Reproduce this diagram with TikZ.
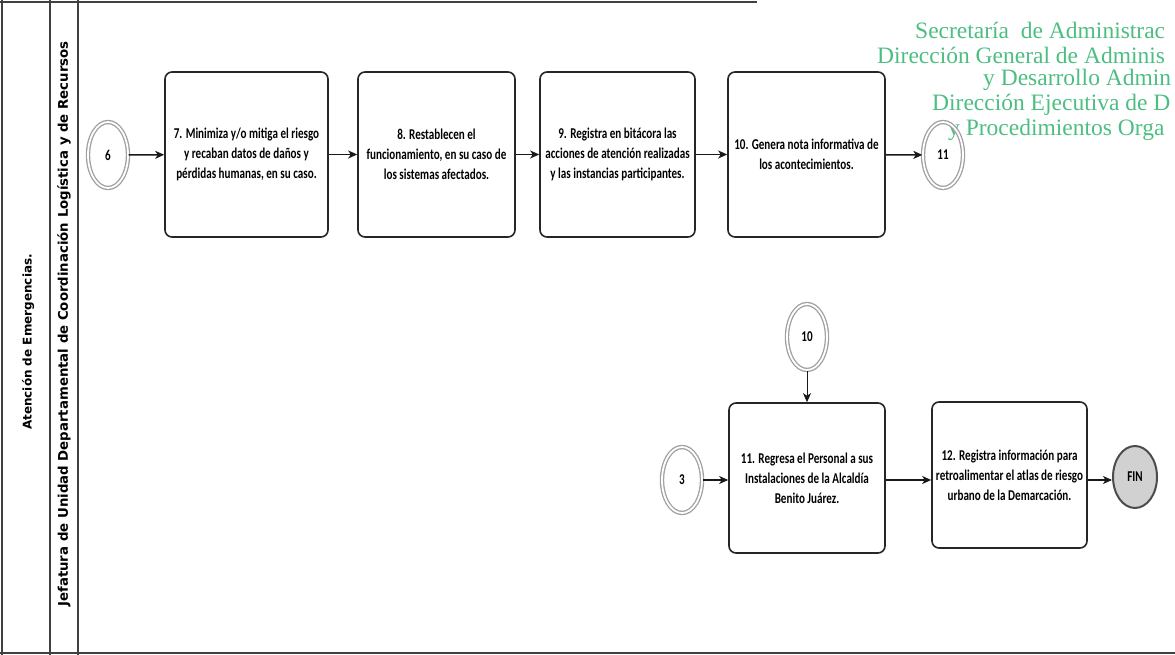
\documentclass[tikz,border=0pt]{standalone}
\usepackage{fontspec}
\setmainfont{Liberation Serif}
\newfontfamily\boxfont[FakeStretch=0.74]{Carlito}
\newfontfamily\lanefont{DejaVu Sans}
\usetikzlibrary{arrows.meta,shapes.geometric}
\definecolor{hdrgreen}{HTML}{4DBE82}
\definecolor{evgray}{HTML}{A0A0A0}
\tikzset{
  task/.style={draw=black!85, line width=1.6pt, rounded corners=7pt, fill=white,
    align=center, inner sep=1pt, font=\boxfont\bfseries\fontsize{15}{20}\selectfont},
  event/.style={ellipse, draw=evgray, double=white, double distance=1.8pt, line width=1.3pt,
    minimum width=40pt, minimum height=66pt, inner sep=0pt, font=\boxfont\bfseries\fontsize{15}{16}\selectfont},
  endev/.style={ellipse, draw=black!70, fill=black!18, line width=2pt,
    minimum width=44pt, minimum height=62pt, inner sep=0pt, font=\boxfont\bfseries\fontsize{15}{16}\selectfont},
  flow/.style={-{Stealth[length=9pt,width=8pt,inset=2.5pt]}, line width=1.5pt, draw=black!90},
  lane/.style={draw=black!75, line width=1.2pt},
  hdr/.style={anchor=west, text=hdrgreen, font=\fontsize{23.5}{26}\selectfont, inner sep=0pt},
  lanetxt/.style={rotate=90, inner sep=0pt}
}
\begin{document}
\begin{tikzpicture}[x=1pt,y=-1pt]
\useasboundingbox (0,0) rectangle (1175,655);
% lane borders
\draw[lane] (0,2) -- (757,2);
\draw[lane] (2,0) -- (2,655);
\draw[lane] (50,0) -- (50,655);
\draw[lane] (78,0) -- (78,655);
\draw[lane] (0,653) -- (1175,653);
% lane labels
\node[lanetxt, font=\lanefont\bfseries\fontsize{12}{14}\selectfont] (l1) at (28,342) {Atención de Emergencias.};
\node[lanetxt, font=\lanefont\bfseries\fontsize{13.3}{14}\selectfont] (l2) at (64,324) {Jefatura de Unidad Departamental de Coordinación Logística y de Recursos};
% header
\node[hdr] (h1) at (915,30) {Secretaría\ \ de Administrac};
\node[hdr] (h2) at (877,55) {Dirección General de Adminis};
\node[hdr] (h3) at (983,80) {y Desarrollo Admin};
\node[hdr] (h4) at (932,105) {Dirección Ejecutiva de D};
\node[hdr] (h5) at (948,130) {y Procedimientos Orga};
% tasks
\node[task, minimum width=163pt, minimum height=165pt] (t7) at (246.5,154.5) {7. Minimiza y/o mitiga el riesgo\\ y recaban datos de daños y\\ pérdidas humanas, en su caso.};
\node[task, minimum width=157pt, minimum height=165pt] (t8) at (436.5,154.5) {8. Restablecen el\\ funcionamiento, en su caso de\\ los sistemas afectados.};
\node[task, minimum width=155pt, minimum height=165pt] (t9) at (617.5,154.5) {9. Registra en bitácora las\\ acciones de atención realizadas\\ y las instancias participantes.};
\node[task, minimum width=157pt, minimum height=165pt] (t10) at (806.5,154.5) {10. Genera nota informativa de\\ los acontecimientos.};
\node[task, minimum width=156pt, minimum height=150pt] (t11) at (807,478) {11. Regresa el Personal a sus\\ Instalaciones de la Alcaldía\\ Benito Juárez.};
\node[task, minimum width=155pt, minimum height=146pt] (t12) at (1009.5,475) {12. Registra información para\\ retroalimentar el atlas de riesgo\\ urbano de la Demarcación.};
% events
\node[event] (e6) at (108,155) {6};
\node[event] (e11) at (943,155) {11};
\node[event] (e10) at (807,337) {10};
\node[event] (e3) at (682,480) {3};
\node[endev] (fin) at (1135,477) {FIN};
% flows
\draw[flow] (e6) -- (t7);
\draw[flow] (t7) -- (t8);
\draw[flow] (t8) -- (t9);
\draw[flow] (t9) -- (t10);
\draw[flow] (t10) -- (e11);
\draw[flow, line width=1pt] (e10) -- (t11);
\draw[flow] (e3) -- (t11.west |- e3);
\draw[flow] (t11.east |- e3) -- (t12.west |- e3);
\draw[flow] (t12.east |- e3) -- (fin.west |- e3);
\end{tikzpicture}
\end{document}
